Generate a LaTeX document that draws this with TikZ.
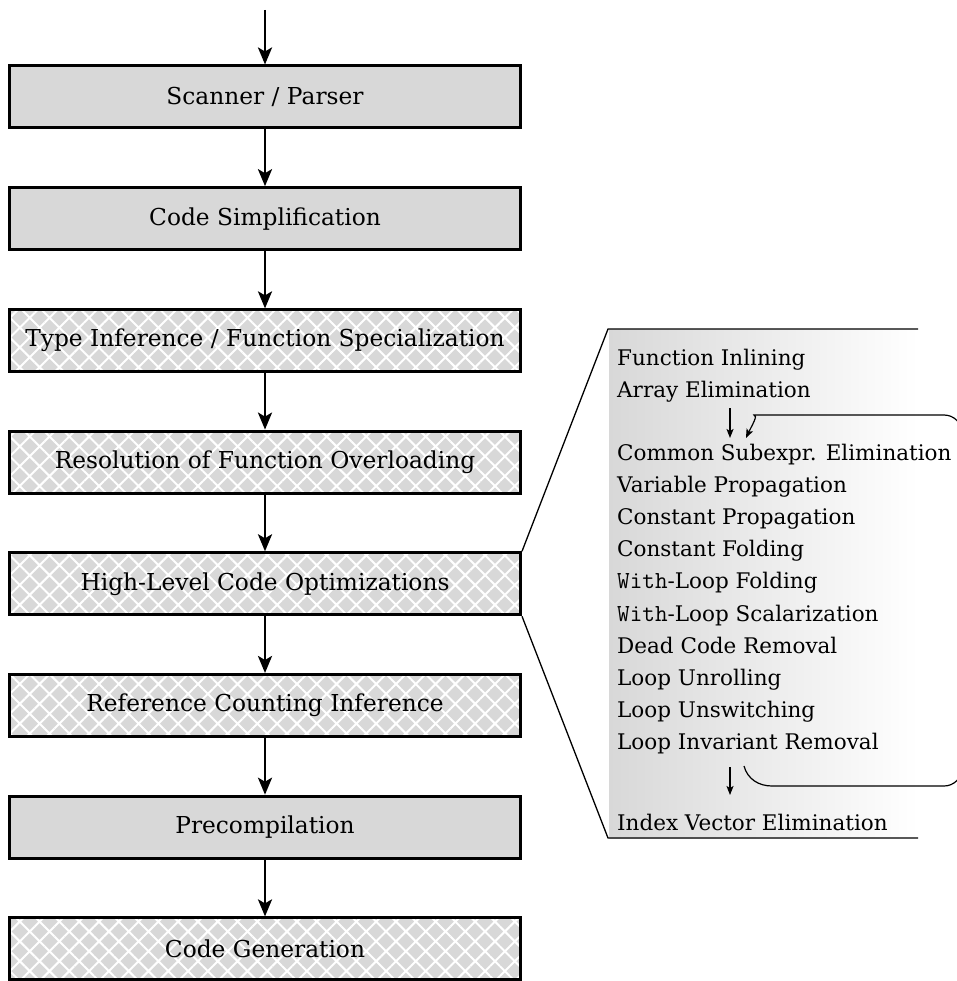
\documentclass[tikz,border=0pt]{standalone}
\usepackage{fontspec}
\setmainfont{DejaVu Serif}
\usetikzlibrary{arrows.meta,patterns.meta}
\definecolor{boxgray}{RGB}{216,216,216}
\newcommand{\mywith}{{\fontsize{24.5}{25}\selectfont\ttfamily With}}
\tikzset{
  solidbox/.style={draw, line width=3pt, fill=boxgray, minimum width=511pt, minimum height=62pt, inner sep=0pt, font=\fontsize{23.3}{27}\selectfont},
  hatchbox/.style={draw, line width=3pt, minimum width=511pt, minimum height=62pt, inner sep=0pt, font=\fontsize{23.3}{27}\selectfont,
     preaction={fill=boxgray}, pattern={Hatch[angle=45,distance=14pt,line width=2pt]}, pattern color=white},
  flow/.style={line width=2.7pt, -{Stealth[length=17pt,width=14pt,inset=4pt]}},
  thinflow/.style={line width=1.2pt, -{Stealth[length=9pt,width=7pt,inset=2pt]}},
  paneltext/.style={anchor=base west, inner sep=0pt, font=\fontsize{21.5}{25}\selectfont},
  panelline/.style={line width=1.3pt},
}
\begin{document}
\begin{tikzpicture}[x=1pt,y=-1pt]
\useasboundingbox (0,0) rectangle (956,981);
% panel
\shade[left color=boxgray, right color=white] (609,329) rectangle (918,838);
\coordinate (ptl) at (608,329);
\coordinate (ptr) at (918,329);
\coordinate (pbl) at (608,838);
\coordinate (pbr) at (918,838);
% boxes
\coordinate (start) at (265,10);
\node[solidbox] (b1) at (265,97) {Scanner / Parser};
\node[solidbox] (b2) at (265,218.7) {Code Simplification};
\node[hatchbox] (b3) at (265,340.4) {Type Inference / Function Specialization};
\node[hatchbox] (b4) at (265,462.1) {Resolution of Function Overloading};
\node[hatchbox] (b5) at (265,583.8) {High-Level Code Optimizations};
\node[hatchbox] (b6) at (265,705.5) {Reference Counting Inference};
\node[solidbox] (b7) at (265,827.2) {Precompilation};
\node[hatchbox] (b8) at (265,948.9) {Code Generation};
\draw[flow] (start) -- (b1);
\draw[flow] (b1) -- (b2);
\draw[flow] (b2) -- (b3);
\draw[flow] (b3) -- (b4);
\draw[flow] (b4) -- (b5);
\draw[flow] (b5) -- (b6);
\draw[flow] (b6) -- (b7);
\draw[flow] (b7) -- (b8);
\draw[panelline] (b5.north east) -- (ptl) -- (ptr);
\draw[panelline] (b5.south east) -- (pbl) -- (pbr);
% panel text
\node[paneltext] (t1) at (617,365) {Function Inlining};
\node[paneltext] (t2) at (617,397) {Array Elimination};
\node[paneltext] (t3) at (617,460) {Common Subexpr. Elimination};
\node[paneltext] (t4) at (617,492.2) {Variable Propagation};
\node[paneltext] (t5) at (617,524.4) {Constant Propagation};
\node[paneltext] (t6) at (617,556.6) {Constant Folding};
\node[paneltext] (t7) at (617,588.8) {\mywith-Loop Folding};
\node[paneltext] (t8) at (617,621) {\mywith-Loop Scalarization};
\node[paneltext] (t9) at (617,653.2) {Dead Code Removal};
\node[paneltext] (t10) at (617,685.4) {Loop Unrolling};
\node[paneltext] (t11) at (617,717.6) {Loop Unswitching};
\node[paneltext] (t12) at (617,749.8) {Loop Invariant Removal};
\node[paneltext] (t13) at (617,830) {Index Vector Elimination};
% small arrows
\coordinate (a1s) at (730,408);
\coordinate (a1e) at (730,438);
\coordinate (a2s) at (730,767);
\coordinate (a2e) at (730,795);
\draw[thinflow] (a1s) -- (a1e);
\draw[thinflow] (a2s) -- (a2e);
% loop back
\coordinate (ls) at (744,766);
\coordinate (le) at (746,438);
\draw[thinflow] (ls) to[out=-75,in=180] (772,786) [rounded corners=18pt] -- (962,786) -- (962,415) -- (772,415) [sharp corners] to[out=180,in=65] (le);
\end{tikzpicture}
\end{document}
